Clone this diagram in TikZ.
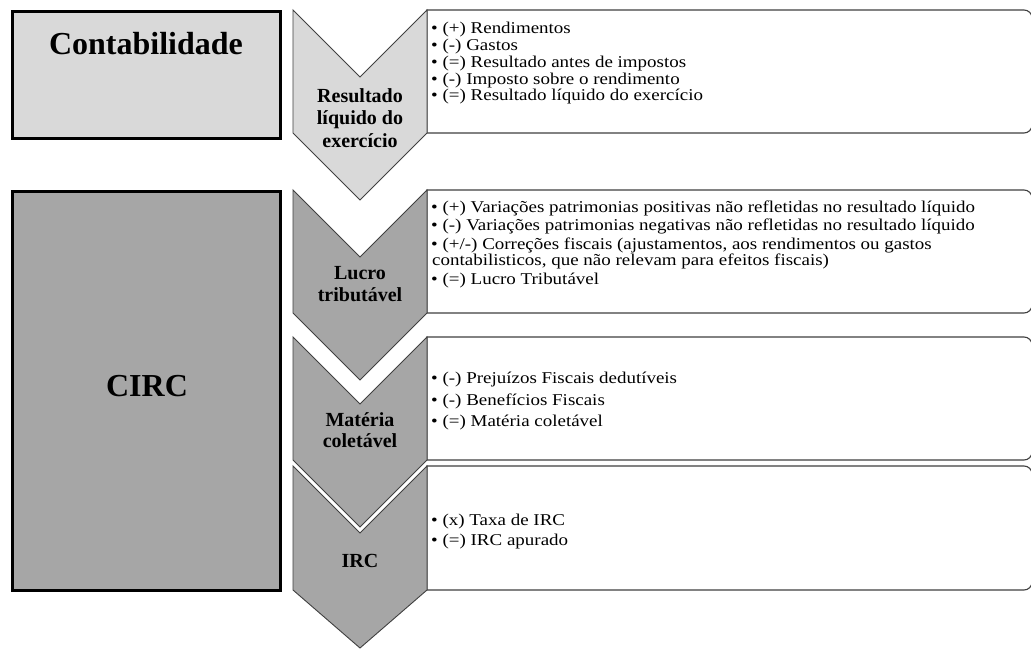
\documentclass[tikz,border=0pt]{standalone}
\usepackage{fontspec}
\setmainfont{Liberation Serif}
\newfontfamily\itemfont[FakeStretch=1.15]{Liberation Serif}
\definecolor{lightfill}{HTML}{D9D9D9}
\definecolor{darkfill}{HTML}{A6A6A6}
\definecolor{edge}{HTML}{404040}
\begin{document}
\begin{tikzpicture}[x=1pt,y=-1pt,
  lbox/.style={draw=black, line width=2.7pt},
  chev/.style={draw=edge, line width=0.9pt},
  tbox/.style={draw=edge, line width=1.1pt, fill=white},
  itemtext/.style={anchor=base west, inner sep=0pt, font=\itemfont\fontsize{16.5}{16.5}\selectfont},
  chevlabel/.style={anchor=base, inner sep=0pt, font=\bfseries\fontsize{20}{20}\selectfont},
  headlabel/.style={anchor=base, inner sep=0pt, font=\bfseries\fontsize{32}{32}\selectfont}]
\useasboundingbox (0,0) rectangle (1031,652);
\clip (0,0) rectangle (1031,652);
\fill[white] (0,0) rectangle (1031,652);

% left boxes
\draw[lbox, fill=lightfill] (12.3,11.3) rectangle (280.2,138.7);
\draw[lbox, fill=darkfill] (12.3,191.3) rectangle (280.2,590.7);
\node[headlabel] (contab) at (146,55) {Contabilidade};
\node[headlabel] (circ) at (147,396) {CIRC};

% right text boxes (rounded on the right side only)
\foreach \t/\b in {10/133, 190/313, 337/460, 466/590}{
  \draw[tbox] (427,\t) -- (1024,\t) .. controls (1028.5,\t) and (1032,\t+3.5) .. (1032,\t+8)
    -- (1032,\b-8) .. controls (1032,\b-3.5) and (1028.5,\b) .. (1024,\b) -- (427,\b) -- cycle;
}

% chevrons
\draw[chev, fill=lightfill] (293,10) -- (360,77) -- (427,10) -- (427,133) -- (360,200) -- (293,133) -- cycle;
\draw[chev, fill=darkfill] (293,190) -- (360,257) -- (427,190) -- (427,313) -- (360,380) -- (293,313) -- cycle;
\draw[chev, fill=darkfill] (293,337) -- (360,404) -- (427,337) -- (427,460) -- (360,527) -- (293,460) -- cycle;
\draw[chev, fill=darkfill] (293,466) -- (360,533) -- (427,466) -- (427,590) -- (360,648) -- (293,590) -- cycle;

% chevron labels
\node[chevlabel] (c1a) at (360,103) {Resultado};
\node[chevlabel] (c1b) at (360,125) {líquido do};
\node[chevlabel] (c1c) at (360,148) {exercício};
\node[chevlabel] (c2a) at (360,280) {Lucro};
\node[chevlabel] (c2b) at (360,302) {tributável};
\node[chevlabel] (c3a) at (360,426) {Matéria};
\node[chevlabel] (c3b) at (360,447) {coletável};
\node[chevlabel] (c4a) at (360,567) {IRC};

% box 1 items
\node[itemtext] (b1a) at (431,34) {• (+) Rendimentos};
\node[itemtext] (b1b) at (431,50.7) {• (-) Gastos};
\node[itemtext] (b1c) at (431,67.4) {• (=) Resultado antes de impostos};
\node[itemtext] (b1d) at (431,84.1) {• (-) Imposto sobre o rendimento};
\node[itemtext] (b1e) at (431,100.8) {• (=) Resultado líquido do exercício};

% box 2 items
\node[itemtext] (b2a) at (431,212.7) {• (+) Variações patrimonias positivas não refletidas no resultado líquido};
\node[itemtext] (b2b) at (431,230.7) {• (-) Variações patrimonias negativas não refletidas no resultado líquido};
\node[itemtext] (b2c) at (431,249.3) {• (+/-) Correções fiscais (ajustamentos, aos rendimentos ou gastos};
\node[itemtext] (b2d) at (432,266) {contabilisticos, que não relevam para efeitos fiscais)};
\node[itemtext] (b2e) at (431,285) {• (=) Lucro Tributável};

% box 3 items
\node[itemtext] (b3a) at (431,384) {• (-) Prejuízos Fiscais dedutíveis};
\node[itemtext] (b3b) at (431,405) {• (-) Benefícios Fiscais};
\node[itemtext] (b3c) at (431,426) {• (=) Matéria coletável};

% box 4 items
\node[itemtext] (b4a) at (431,525) {• (x) Taxa de IRC};
\node[itemtext] (b4b) at (431,545) {• (=) IRC apurado};
\end{tikzpicture}
\end{document}
